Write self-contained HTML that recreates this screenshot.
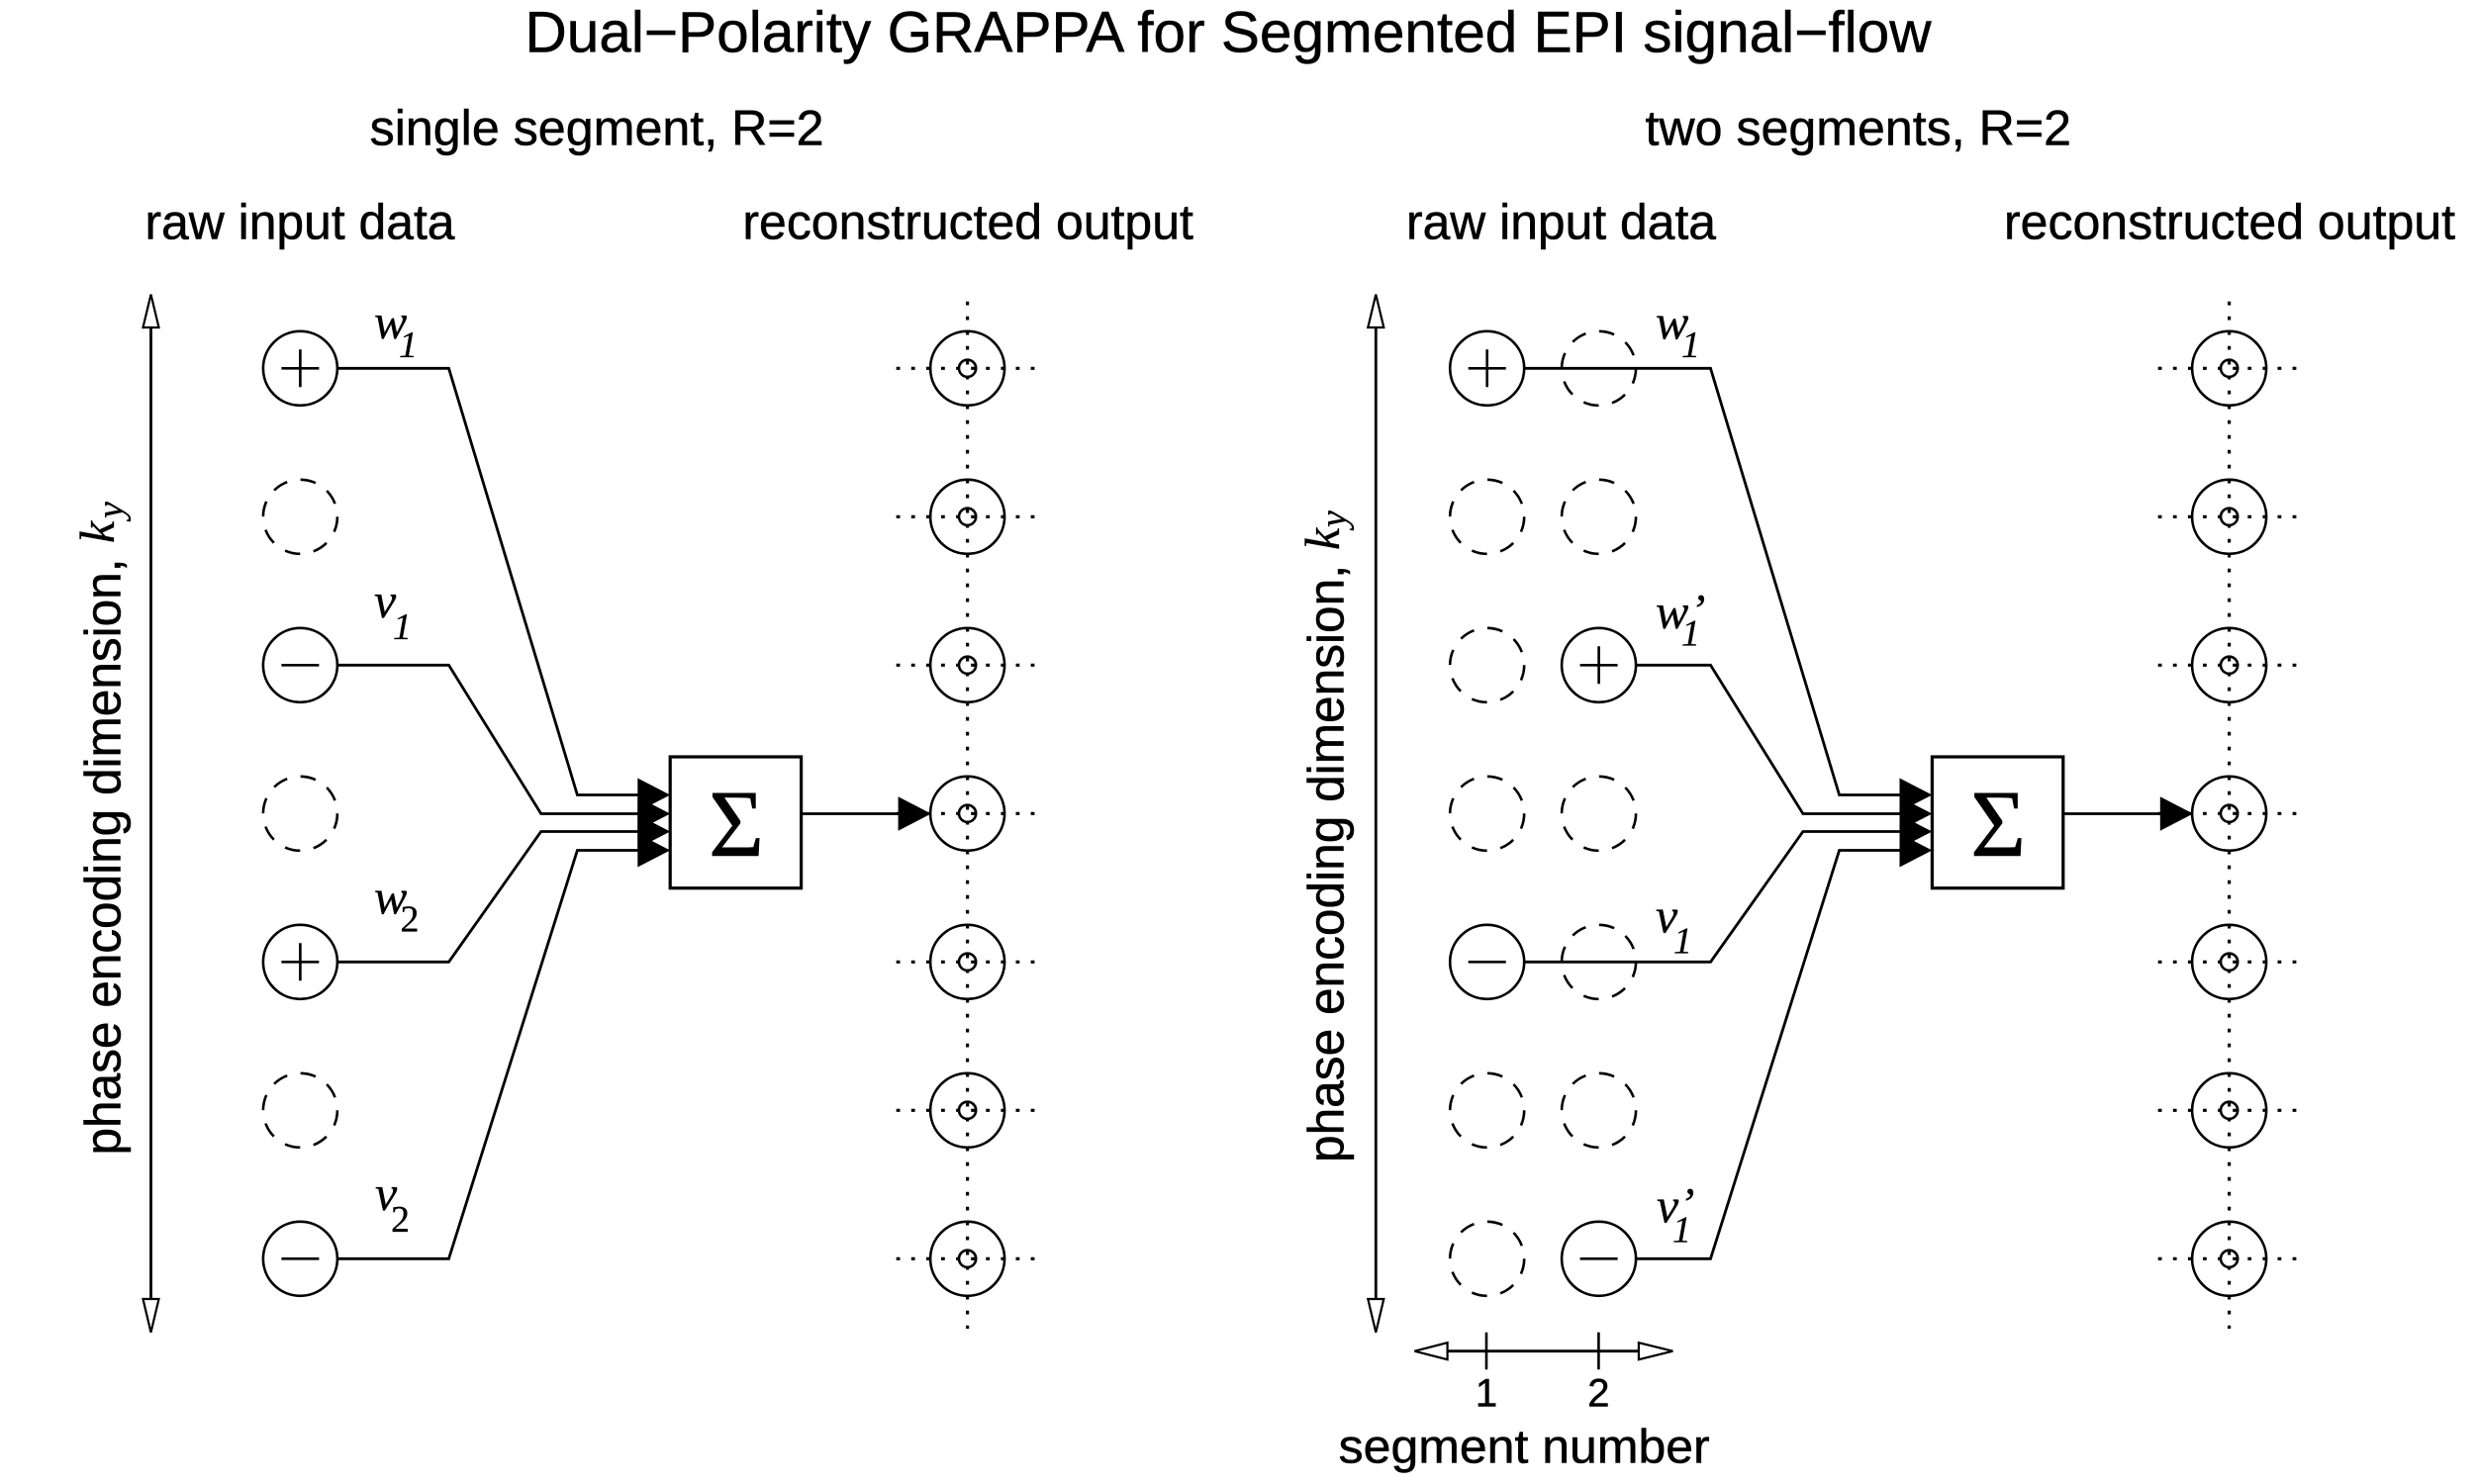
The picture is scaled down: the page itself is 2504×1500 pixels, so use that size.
<!DOCTYPE html>
<html>
<head>
<meta charset="utf-8">
<title>Dual-Polarity GRAPPA signal-flow</title>
<style>
html,body{margin:0;padding:0;background:#fff;width:2504px;height:1500px;overflow:hidden}
svg{display:block}
text{fill:#000}
.s{font-family:"Liberation Sans",sans-serif;stroke:#000;stroke-width:.5}
.i{font-family:"Liberation Serif",serif;font-style:italic;stroke:#000;stroke-width:.3}
.w{fill:none;stroke:#000;stroke-width:2.8;stroke-linejoin:miter}
.t{fill:none;stroke:#000;stroke-width:2.6}
.d{fill:none;stroke:#000;stroke-width:2.6;stroke-dasharray:15.7 13.75}
.o{fill:none;stroke:#000;stroke-width:3.2;stroke-dasharray:3.8 11.3}
.v{fill:none;stroke:#000;stroke-width:3.2;stroke-dasharray:3.75 11.25}
</style>
</head>
<body>
<svg xmlns="http://www.w3.org/2000/svg" width="2504" height="1500" viewBox="0 0 2504 1500">
<defs>
  <g id="out">
    <line class="o" x1="905.7" x2="1046.5" y1="0" y2="0"/>
    <circle class="t" cx="977.6" cy="0" r="37.5"/>
    <circle class="t" cx="977.6" cy="0" r="8.6"/>
  </g>
  <g id="outcol">
    <line class="v" x1="977.6" x2="977.6" y1="304.8" y2="1343"/>
    <use href="#out" y="372.3"/>
    <use href="#out" y="522.3"/>
    <use href="#out" y="672.3"/>
    <use href="#out" y="822.3"/>
    <use href="#out" y="972.3"/>
    <use href="#out" y="1122.3"/>
    <use href="#out" y="1272.3"/>
  </g>
  <g id="sum">
    <rect x="677.2" y="765" width="132.4" height="132.7" fill="#fff" stroke="#000" stroke-width="3.2"/>
    <polygon points="644.3,786.5 677.2,803.5 644.3,820.5" fill="#000"/>
    <polygon points="644.3,805.5 677.2,822.5 644.3,839.5" fill="#000"/>
    <polygon points="644.3,823.5 677.2,840.5 644.3,857.5" fill="#000"/>
    <polygon points="644.3,842.5 677.2,859.5 644.3,876.5" fill="#000"/>
    <line class="w" x1="809.6" x2="908" y1="822.5" y2="822.5"/>
    <polygon points="907.6,805.3 940.9,822.5 907.6,839.7" fill="#000"/>
    <text x="744" y="865" text-anchor="middle" font-family="Liberation Serif, serif" font-size="96" stroke="#000" stroke-width=".6">Σ</text>
  </g>
  <g id="plus">
    <circle class="t" cx="0" cy="0" r="37.5"/>
    <path class="t" d="M-19 0H19M0 -19V19"/>
  </g>
  <g id="minus">
    <circle class="t" cx="0" cy="0" r="37.5"/>
    <path class="t" d="M-19 0H19"/>
  </g>
</defs>

<!-- headings -->
<text class="s" x="530.5" y="52.6" font-size="58" textLength="1421" lengthAdjust="spacingAndGlyphs">Dual−Polarity GRAPPA for Segmented EPI signal−flow</text>
<text class="s" x="373.6" y="146.4" font-size="50" textLength="459" lengthAdjust="spacingAndGlyphs">single segment, R=2</text>
<text class="s" x="1662.5" y="146.4" font-size="50" textLength="430.5" lengthAdjust="spacingAndGlyphs">two segments, R=2</text>
<text class="s" x="146.5" y="241.6" font-size="50" textLength="313" lengthAdjust="spacingAndGlyphs">raw input data</text>
<text class="s" x="750.4" y="241.6" font-size="50" textLength="455.5" lengthAdjust="spacingAndGlyphs">reconstructed output</text>
<text class="s" x="1421" y="241.6" font-size="50" textLength="313" lengthAdjust="spacingAndGlyphs">raw input data</text>
<text class="s" x="2025" y="241.6" font-size="50" textLength="456" lengthAdjust="spacingAndGlyphs">reconstructed output</text>

<!-- left axis -->
<line class="w" x1="152.5" x2="152.5" y1="331" y2="1313"/>
<polygon points="152.5,297.6 160.5,331 144.5,331" fill="#fff" stroke="#000" stroke-width="2.2"/>
<polygon points="152.5,1346.7 160.5,1313 144.5,1313" fill="#fff" stroke="#000" stroke-width="2.2"/>
<text class="s" transform="translate(121.7,1167.5) rotate(-90)" font-size="51" textLength="603" lengthAdjust="spacingAndGlyphs">phase encoding dimension,</text>
<text class="i" transform="translate(115,549) rotate(-90)" font-size="50">k</text>
<text class="i" transform="translate(124,524) rotate(-90)" font-size="38">y</text>

<!-- right axis -->
<line class="w" x1="1390.3" x2="1390.3" y1="331" y2="1313"/>
<polygon points="1390.3,297.6 1398.3,331 1382.3,331" fill="#fff" stroke="#000" stroke-width="2.2"/>
<polygon points="1390.3,1346.7 1398.3,1313 1382.3,1313" fill="#fff" stroke="#000" stroke-width="2.2"/>
<text class="s" transform="translate(1357.3,1175) rotate(-90)" font-size="51" textLength="604" lengthAdjust="spacingAndGlyphs">phase encoding dimension,</text>
<text class="i" transform="translate(1353,556) rotate(-90)" font-size="50">k</text>
<text class="i" transform="translate(1360,533) rotate(-90)" font-size="38">y</text>

<!-- left panel inputs -->
<use href="#plus" x="303.4" y="372.3"/>
<circle class="d" cx="303.4" cy="522.3" r="37.5"/>
<use href="#minus" x="303.4" y="672.3"/>
<circle class="d" cx="303.4" cy="822.3" r="37.5"/>
<use href="#plus" x="303.4" y="972.3"/>
<circle class="d" cx="303.4" cy="1122.3" r="37.5"/>
<use href="#minus" x="303.4" y="1272.3"/>

<polyline class="w" points="341,372.3 453.5,372.3 583.4,803.5 645,803.5"/>
<polyline class="w" points="341,672.3 453.5,672.3 546.7,822.5 645,822.5"/>
<polyline class="w" points="341,972.3 453.5,972.3 546.7,840.5 645,840.5"/>
<polyline class="w" points="341,1272.3 453.5,1272.3 583.4,859.5 645,859.5"/>

<text class="i" x="378" y="342" font-size="50">w</text><text class="i" x="403" y="361" font-size="38">1</text>
<text class="i" x="378" y="624" font-size="50">v</text><text class="i" x="397" y="646" font-size="38">1</text>
<text class="i" x="378" y="923.3" font-size="50">w</text><text class="i" x="404.5" y="941.7" font-size="38" style="font-style:normal">2</text>
<text class="i" x="379" y="1223" font-size="50">v</text><text class="i" x="395" y="1245" font-size="38" style="font-style:normal">2</text>

<use href="#sum"/>
<use href="#outcol"/>

<!-- right panel inputs -->
<use href="#plus" x="1502.7" y="372.3"/>
<circle class="d" cx="1615.6" cy="372.3" r="37.5"/>
<circle class="d" cx="1502.7" cy="522.3" r="37.5"/>
<circle class="d" cx="1615.6" cy="522.3" r="37.5"/>
<circle class="d" cx="1502.7" cy="672.3" r="37.5"/>
<use href="#plus" x="1615.6" y="672.3"/>
<circle class="d" cx="1502.7" cy="822.3" r="37.5"/>
<circle class="d" cx="1615.6" cy="822.3" r="37.5"/>
<use href="#minus" x="1502.7" y="972.3"/>
<circle class="d" cx="1615.6" cy="972.3" r="37.5"/>
<circle class="d" cx="1502.7" cy="1122.3" r="37.5"/>
<circle class="d" cx="1615.6" cy="1122.3" r="37.5"/>
<circle class="d" cx="1502.7" cy="1272.3" r="37.5"/>
<use href="#minus" x="1615.6" y="1272.3"/>

<polyline class="w" points="1540.4,372.3 1728.5,372.3 1858.6,803.5 1920,803.5"/>
<polyline class="w" points="1653.3,672.3 1728.5,672.3 1821.9,822.5 1920,822.5"/>
<polyline class="w" points="1540.4,972.3 1728.5,972.3 1821.9,840.5 1920,840.5"/>
<polyline class="w" points="1653.3,1272.3 1728.5,1272.3 1858.6,859.5 1920,859.5"/>

<text class="i" x="1673" y="342.7" font-size="50">w</text><text class="i" x="1699" y="361" font-size="38">1</text>
<text class="i" x="1673" y="635" font-size="50">w</text><text class="i" x="1699" y="652.7" font-size="38">1</text><text class="i" x="1708" y="632" font-size="46">’</text>
<text class="i" x="1673" y="942.3" font-size="50">v</text><text class="i" x="1691" y="963.3" font-size="38">1</text>
<text class="i" x="1674" y="1235.7" font-size="50">v</text><text class="i" x="1690" y="1255.7" font-size="38">1</text><text class="i" x="1697" y="1232" font-size="46">’</text>

<use href="#sum" x="1275.2"/>
<use href="#outcol" x="1275"/>

<!-- segment axis -->
<line class="w" x1="1462" x2="1656" y1="1365.7" y2="1365.7"/>
<polygon points="1429.4,1365.7 1462.6,1357.2 1462.6,1374.2" fill="#fff" stroke="#000" stroke-width="2.2"/>
<polygon points="1690.4,1365.7 1655.9,1357.2 1655.9,1374.2" fill="#fff" stroke="#000" stroke-width="2.2"/>
<line class="t" x1="1502" x2="1502" y1="1346.7" y2="1384.3"/>
<line class="t" x1="1615.4" x2="1615.4" y1="1346.7" y2="1384.3"/>
<text class="s" x="1502" y="1421.7" font-size="40" text-anchor="middle">1</text>
<text class="s" x="1615.4" y="1421.7" font-size="40" text-anchor="middle">2</text>
<text class="s" x="1352.7" y="1478.3" font-size="48" textLength="375" lengthAdjust="spacingAndGlyphs">segment number</text>
</svg>
</body>
</html>
